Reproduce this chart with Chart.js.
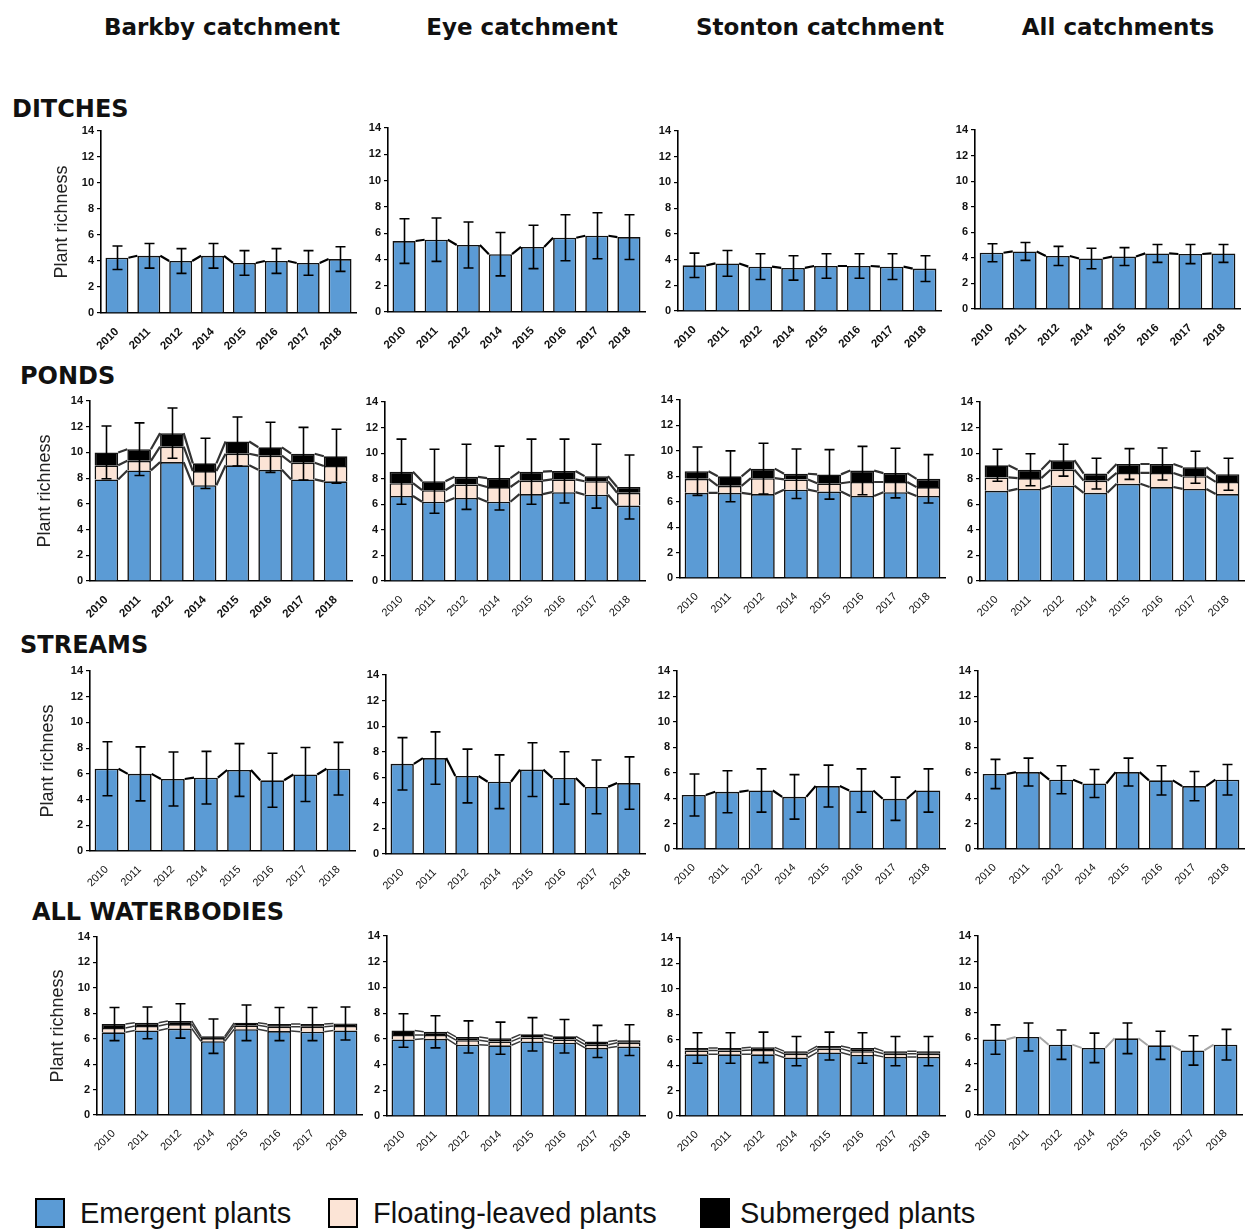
<!DOCTYPE html>
<html>
<head>
<meta charset="utf-8">
<script src="https://cdn.jsdelivr.net/npm/chart.js@4.4.1/dist/chart.umd.min.js"></script>
<style>
  body { margin: 0; width: 1245px; height: 1229px; position: relative; overflow: hidden; background: #fff; }
  .col-title { position: absolute; top: 13px; font: bold 23px 'DejaVu Sans', sans-serif; color: #111; transform: translateX(-50%); white-space: nowrap; line-height: 28px; }
  .row-title { position: absolute; font: bold 24px 'DejaVu Sans', sans-serif; color: #111; white-space: nowrap; line-height: 26px; }
  .panel { position: absolute; }
  .lg-box { position: absolute; top: 1198px; width: 30px; height: 30px; box-sizing: border-box; border: 2px solid #000; }
  .lg-text { position: absolute; top: 1196px; font: 29px 'Liberation Sans', Arial, sans-serif; color: #111; line-height: 34px; white-space: nowrap; }
</style>
</head>
<body>
<div id="root"></div>
<script>
// categories
const years = ['2010', '2011', '2012', '2014', '2015', '2016', '2017', '2018'];
const catchments = ['Barkby catchment', 'Eye catchment', 'Stonton catchment', 'All catchments'];
const waterbodies = ['DITCHES', 'PONDS', 'STREAMS', 'ALL WATERBODIES'];
const seriesNames = ['Emergent plants', 'Floating-leaved plants', 'Submerged plants'];

// each list: [Barkby, Eye, Stonton, All catchments]
const ditchesEmergent = [
  [4.25, 4.4, 4.0, 4.4, 3.85, 4.0, 3.85, 4.15],
  [5.4, 5.5, 5.1, 4.4, 4.95, 5.65, 5.8, 5.7],
  [3.55, 3.7, 3.45, 3.35, 3.5, 3.5, 3.45, 3.3],
  [4.4, 4.5, 4.15, 3.95, 4.1, 4.35, 4.3, 4.35],
];
const ditchesError = [
  [0.9, 0.95, 0.95, 0.95, 0.95, 0.95, 0.95, 0.95],
  [1.7, 1.65, 1.75, 1.65, 1.65, 1.75, 1.75, 1.7],
  [0.95, 1.0, 1.0, 0.95, 0.95, 0.95, 1.0, 1.0],
  [0.7, 0.7, 0.75, 0.8, 0.7, 0.7, 0.75, 0.7],
];

const pondsEmergent = [
  [7.9, 8.6, 9.25, 7.45, 9.0, 8.65, 7.9, 7.75],
  [6.65, 6.2, 6.5, 6.2, 6.8, 6.95, 6.75, 5.9],
  [6.7, 6.7, 6.6, 6.95, 6.8, 6.45, 6.75, 6.45],
  [7.05, 7.2, 7.45, 6.9, 7.6, 7.35, 7.2, 6.8],
];
const pondsFloating = [
  [1.1, 0.75, 1.2, 1.1, 0.9, 1.1, 1.3, 1.2],
  [1.0, 0.9, 1.05, 1.15, 1.05, 1.0, 1.05, 1.0],
  [1.1, 0.55, 1.25, 0.8, 0.65, 1.1, 0.8, 0.7],
  [1.05, 0.85, 1.25, 0.95, 0.85, 1.1, 1.0, 0.95],
];
const pondsSubmerged = [
  [1.0, 0.9, 1.05, 0.6, 0.95, 0.65, 0.7, 0.75],
  [0.9, 0.7, 0.6, 0.7, 0.7, 0.65, 0.4, 0.45],
  [0.6, 0.75, 0.75, 0.45, 0.7, 0.9, 0.7, 0.65],
  [0.95, 0.65, 0.75, 0.55, 0.7, 0.7, 0.7, 0.6],
];
const pondsError = [
  [2.05, 2.05, 1.95, 1.95, 1.9, 1.95, 2.05, 2.1],
  [2.55, 2.5, 2.55, 2.5, 2.55, 2.5, 2.5, 2.5],
  [1.9, 2.0, 2.0, 1.95, 1.95, 1.9, 1.95, 1.9],
  [1.25, 1.25, 1.25, 1.2, 1.2, 1.25, 1.25, 1.25],
];

const streamsEmergent = [
  [6.4, 6.0, 5.6, 5.7, 6.3, 5.5, 5.95, 6.4],
  [7.05, 7.5, 6.1, 5.65, 6.6, 5.95, 5.25, 5.55],
  [4.25, 4.5, 4.6, 4.1, 4.95, 4.6, 3.95, 4.6],
  [5.9, 6.05, 5.45, 5.15, 6.05, 5.4, 4.95, 5.45],
];
const streamsError = [
  [2.1, 2.1, 2.1, 2.05, 2.05, 2.1, 2.1, 2.05],
  [2.05, 2.05, 2.1, 2.1, 2.1, 2.05, 2.1, 2.05],
  [1.65, 1.65, 1.7, 1.75, 1.65, 1.7, 1.7, 1.7],
  [1.15, 1.1, 1.1, 1.1, 1.1, 1.15, 1.15, 1.2],
];

const allEmergent = [
  [6.5, 6.65, 6.8, 5.8, 6.75, 6.6, 6.55, 6.65],
  [5.95, 6.0, 5.55, 5.5, 5.8, 5.7, 5.3, 5.4],
  [4.85, 4.85, 4.85, 4.6, 5.0, 4.8, 4.65, 4.65],
  [5.9, 6.1, 5.5, 5.25, 6.0, 5.45, 5.05, 5.5],
];
const allFloating = [
  [0.35, 0.35, 0.35, 0.25, 0.3, 0.35, 0.4, 0.35],
  [0.35, 0.3, 0.35, 0.3, 0.3, 0.25, 0.25, 0.3],
  [0.3, 0.3, 0.35, 0.3, 0.3, 0.3, 0.25, 0.25],
  null,
];
const allSubmerged = [
  [0.3, 0.25, 0.25, 0.15, 0.2, 0.2, 0.2, 0.2],
  [0.35, 0.25, 0.25, 0.25, 0.25, 0.25, 0.25, 0.2],
  [0.2, 0.2, 0.2, 0.2, 0.2, 0.25, 0.2, 0.2],
  null,
];
const allError = [
  [1.3, 1.25, 1.35, 1.35, 1.4, 1.3, 1.3, 1.3],
  [1.3, 1.25, 1.25, 1.25, 1.3, 1.3, 1.25, 1.2],
  [1.2, 1.2, 1.2, 1.15, 1.1, 1.2, 1.15, 1.15],
  [1.15, 1.1, 1.15, 1.15, 1.2, 1.1, 1.15, 1.2],
];

// layout: plot boxes [axisX, y of 14, y of 0, right end] per row / column
const PANEL_BOX = [
  [[101, 131, 313, 356], [388, 128, 312, 645], [678, 131, 311, 941], [975, 130, 309, 1240]],
  [[90, 401, 581, 352], [385, 402, 581, 645], [680, 400, 578, 945], [980, 402, 581, 1244]],
  [[90, 671, 851, 355], [386, 675, 854, 645], [677, 671, 849, 945], [978, 671, 849, 1244]],
  [[97, 937, 1115, 362], [387, 936, 1116, 645], [680, 938, 1116, 945], [978, 936, 1115, 1242]],
];
const ROW_TITLE_POS = [[12, 96], [20, 363], [20, 632], [32, 899]];
const YTITLE_X = [62, 45, 48, 58];
const COL_TITLE_X = [222, 522, 820, 1118];

const COLORS = { emergent: '#5b9bd5', floating: '#fce4d6', submerged: '#000000', edge: '#111111' };
const ROW_LINE = ['#000000', '#333333', '#000000', '#3a3a3a'];
const TICK_FONT = "'Liberation Sans', Arial, sans-serif";

const rows = [
  { em: ditchesEmergent, fl: null, sub: null, err: ditchesError },
  { em: pondsEmergent, fl: pondsFloating, sub: pondsSubmerged, err: pondsError },
  { em: streamsEmergent, fl: null, sub: null, err: streamsError },
  { em: allEmergent, fl: allFloating, sub: allSubmerged, err: allError },
];

// Excel-style series lines joining the top of each stacked segment
const seriesLines = {
  id: 'seriesLines',
  afterDatasetsDraw(chart, args, opts) {
    const ctx = chart.ctx;
    ctx.save();
    ctx.strokeStyle = opts.color;
    ctx.lineWidth = opts.width;
    chart.data.datasets.forEach((ds, i) => {
      const pts = chart.getDatasetMeta(i).data;
      ctx.beginPath();
      for (let j = 0; j < pts.length - 1; j++) {
        const a = pts[j], b = pts[j + 1];
        ctx.moveTo(a.x + a.width / 2, a.y);
        ctx.lineTo(b.x - b.width / 2, b.y);
      }
      ctx.stroke();
    });
    ctx.restore();
  }
};

const errorBars = {
  id: 'errorBars',
  afterDatasetsDraw(chart, args, opts) {
    const err = opts.values;
    if (!err) return;
    const ctx = chart.ctx, y = chart.scales.y;
    const pts = chart.getDatasetMeta(0).data;
    ctx.save();
    ctx.strokeStyle = '#000';
    ctx.lineWidth = 1.6;
    pts.forEach((p, j) => {
      const total = chart.data.datasets.reduce((s, ds) => s + ds.data[j], 0);
      const hi = y.getPixelForValue(total + err[j]);
      const lo = y.getPixelForValue(total - err[j]);
      const x = Math.round(p.x) + 0.5, c = 5;
      ctx.beginPath();
      ctx.moveTo(x, hi); ctx.lineTo(x, lo);
      ctx.moveTo(x - c, hi); ctx.lineTo(x + c, hi);
      ctx.moveTo(x - c, lo); ctx.lineTo(x + c, lo);
      ctx.stroke();
    });
    ctx.restore();
  }
};

const root = document.getElementById('root');

catchments.forEach((t, c) => {
  const d = document.createElement('div');
  d.className = 'col-title';
  d.style.left = COL_TITLE_X[c] + 'px';
  d.textContent = t;
  root.appendChild(d);
});

waterbodies.forEach((t, r) => {
  const d = document.createElement('div');
  d.className = 'row-title';
  d.style.left = ROW_TITLE_POS[r][0] + 'px';
  d.style.top = ROW_TITLE_POS[r][1] + 'px';
  d.textContent = t;
  root.appendChild(d);
});

function makePanel(r, c) {
  const [axisX, top14, zero, right] = PANEL_BOX[r][c];
  const padTop = 10, padRight = 6, xH = 48;
  const left = c === 0 ? YTITLE_X[r] - 11 : axisX - 34;
  const yW = axisX - left;
  const w = right - left + padRight;
  const h = zero - top14 + padTop + xH;

  const div = document.createElement('div');
  div.className = 'panel';
  div.style.left = left + 'px';
  div.style.top = (top14 - padTop) + 'px';
  const cv = document.createElement('canvas');
  cv.width = w; cv.height = h;
  cv.style.width = w + 'px'; cv.style.height = h + 'px';
  div.appendChild(cv);
  root.appendChild(div);

  const row = rows[r];
  const datasets = [{
    label: seriesNames[0], data: row.em[c], backgroundColor: COLORS.emergent,
    borderColor: COLORS.edge, borderWidth: 1.6
  }];
  if (row.fl && row.fl[c]) {
    datasets.push({ label: seriesNames[1], data: row.fl[c], backgroundColor: COLORS.floating,
                    borderColor: COLORS.edge, borderWidth: 1.6 });
    datasets.push({ label: seriesNames[2], data: row.sub[c], backgroundColor: COLORS.submerged,
                    borderColor: COLORS.edge, borderWidth: 1.6 });
  }
  const boldYears = r === 0 || (r === 1 && c === 0);
  let lineColor = ROW_LINE[r], lineW = r === 3 ? 1.5 : 2.2;
  if (r === 3 && c === 3) { lineColor = '#a6a6a6'; lineW = 2; }

  new Chart(cv, {
    type: 'bar',
    data: { labels: years, datasets },
    plugins: [seriesLines, errorBars],
    options: {
      responsive: false, animation: false, devicePixelRatio: 1,
      layout: { padding: { top: padTop, right: padRight, left: 0, bottom: 0 } },
      datasets: { bar: { categoryPercentage: 0.72, barPercentage: 1 } },
      plugins: {
        legend: { display: false }, tooltip: { enabled: false },
        seriesLines: { color: lineColor, width: lineW },
        errorBars: { values: row.err[c] },
      },
      scales: {
        x: {
          stacked: true,
          grid: { display: false },
          border: { color: '#000', width: 1.6 },
          ticks: { autoSkip: false, minRotation: 45, maxRotation: 45, padding: 4, color: '#111',
                   font: { family: TICK_FONT, size: boldYears ? 11.5 : 11, weight: boldYears ? 'bold' : 'normal' } },
          afterFit(s) { s.height = xH; s.paddingLeft = 0; s.paddingRight = 0; },
        },
        y: {
          stacked: true, min: 0, max: 14,
          grid: { drawOnChartArea: false, drawTicks: true, tickLength: 4, color: '#000', lineWidth: 1.2 },
          border: { color: '#000', width: 1.6 },
          ticks: { stepSize: 2, padding: 3, color: '#111', font: { family: TICK_FONT, size: 11, weight: 'bold' } },
          title: { display: c === 0, text: 'Plant richness', color: '#222', padding: 0,
                   font: { family: TICK_FONT, size: 18 } },
          afterFit(s) { s.width = yW; s.paddingTop = 0; s.paddingBottom = 0; },
        },
      },
    },
  });
}

for (let r = 0; r < 4; r++) for (let c = 0; c < 4; c++) makePanel(r, c);

// legend
const LEGEND = [
  { x: 35, tx: 80, color: COLORS.emergent },
  { x: 328, tx: 373, color: COLORS.floating },
  { x: 700, tx: 740, color: COLORS.submerged },
];
LEGEND.forEach((item, i) => {
  const b = document.createElement('div');
  b.className = 'lg-box';
  b.style.left = item.x + 'px';
  b.style.background = item.color;
  root.appendChild(b);
  const t = document.createElement('div');
  t.className = 'lg-text';
  t.style.left = item.tx + 'px';
  t.textContent = seriesNames[i];
  root.appendChild(t);
});
</script>
</body>
</html>
